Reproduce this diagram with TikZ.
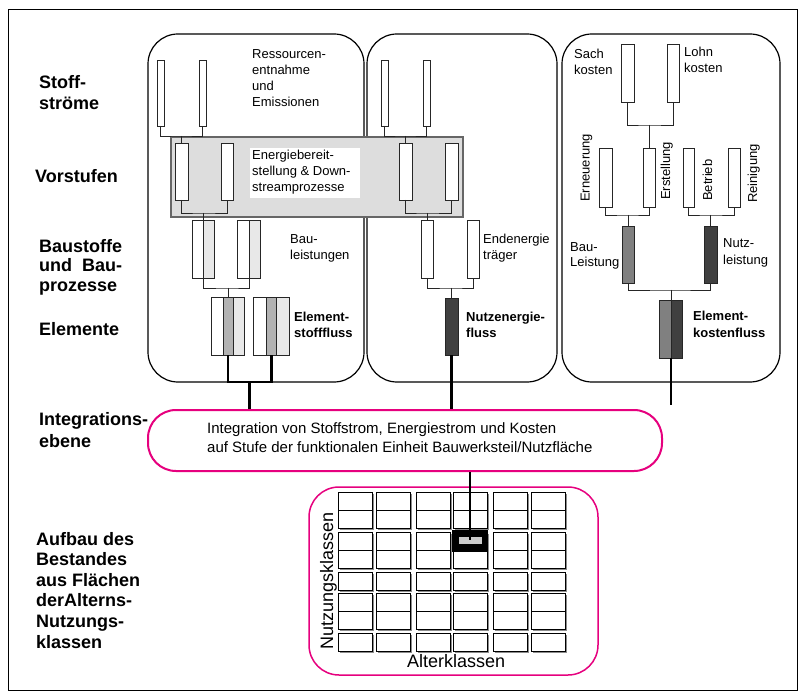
\documentclass[tikz,border=0pt]{standalone}
\usepackage{fontspec}
\setmainfont{Liberation Sans}
\usetikzlibrary{calc}
\definecolor{pinkc}{RGB}{230,0,126}
\definecolor{lgray}{RGB}{232,232,232}
\definecolor{mgray}{RGB}{178,178,178}
\definecolor{bgray}{RGB}{128,128,128}
\definecolor{dgray}{RGB}{64,64,64}
\definecolor{boxgray}{RGB}{221,221,221}
\begin{document}
\begin{tikzpicture}[x=1pt,y=-1pt,
  bar/.style 2 args={draw=black!85, line width=0.7pt, fill=white, minimum width=#1, minimum height=#2, inner sep=0pt, outer sep=0pt},
  conn/.style={draw=black!85, line width=0.8pt},
  thickc/.style={draw=black, line width=2.8pt},
  panel/.style={draw=black, line width=1.2pt, rounded corners=30pt, inner sep=0pt},
  side/.style={font=\fontsize{18}{21}\selectfont\bfseries, align=left, anchor=base west, inner sep=0pt},
  lbl/.style={font=\fontsize{13}{16}\selectfont, align=left, anchor=base west, inner sep=0pt},
  blbl/.style={font=\fontsize{13}{15.5}\selectfont\bfseries, align=left, anchor=base west, inner sep=0pt},
  cellshadow/.style={fill=black!45},
  cell/.style={draw=black, fill=white, line width=0.9pt},
]
\useasboundingbox (0,0) rectangle (805,700);
\fill[white] (0,0) rectangle (805,700);
\draw[line width=1pt] (8,10) rectangle (797,690);

% side labels (anchor = baseline of last line)
\node[side] (lStoff) at (39,110) {Stoff-\\str\"ome};
\node[side] (lVor) at (35,183) {Vorstufen};
\node[side, font=\fontsize{18}{19.5}\selectfont\bfseries] (lBau) at (39,291) {Baustoffe\\und\ \ Bau-\\prozesse};
\node[side] (lEl) at (39,335) {Elemente};
\node[side, font=\fontsize{18}{22}\selectfont\bfseries] (lInt) at (39,447) {Integrations-\\ebene};
\node[side, font=\fontsize{18}{20.6}\selectfont\bfseries] (lAuf) at (36,648) {Aufbau des\\Bestandes\\aus Fl\"achen\\derAlterns-\\Nutzungs-\\klassen};

% panels
\node[panel, minimum width=216, minimum height=348] (p1) at (256,208) {};
\node[panel, minimum width=190, minimum height=348] (p2) at (462,208) {};
\node[panel, minimum width=218, minimum height=348] (p3) at (671,208) {};

% Vorstufen gray box
\node[draw=black!60, fill=boxgray, line width=1.2pt, minimum width=292, minimum height=80, inner sep=0pt] (vbox) at (317,177) {};
\fill[white] (250,148) rectangle (360,198);
\node[lbl] (tEnergie) at (252,192) {Energiebereit-\\stellung \& Down-\\streamprozesse};

% Stoffstroeme bars
\node[bar={7}{66}] (s1) at (160.5,93) {};
\node[bar={7}{66}] (s2) at (202.5,93) {};
\node[bar={7}{66}] (s3) at (384.5,93) {};
\node[bar={7}{66}] (s4) at (426.5,93) {};
\node[lbl] (tRes) at (252,107) {Ressourcen-\\entnahme\\und\\Emissionen};

% Vorstufen bars
\node[bar={13}{57}] (v1) at (181.5,171.5) {};
\node[bar={12}{57}] (v2) at (227,171.5) {};
\node[bar={13}{57}] (v3) at (405.5,171.5) {};
\node[bar={13}{57}] (v4) at (451.5,171.5) {};

% Bauleistungen bars
\node[bar={11.5}{58}] (b1a) at (197.75,249) {};
\node[bar={10.5}{58}, fill=lgray] (b1b) at (208.75,249) {};
\node[bar={12}{58}] (b2a) at (243,249) {};
\node[bar={11}{58}, fill=lgray] (b2b) at (254.5,249) {};
\node[lbl] (tBau) at (290,260) {Bau-\\leistungen};

% Element bars
\node[bar={12}{58}] (el1a) at (217,326) {};
\node[bar={10}{58}, fill=mgray] (el1b) at (228,326) {};
\node[bar={11}{58}, fill=lgray] (el1c) at (238.5,326) {};
\node[bar={13}{58}] (el2a) at (259.5,326) {};
\node[bar={10.7}{58}, fill=mgray] (el2b) at (271.35,326) {};
\node[bar={12.3}{58}, fill=lgray] (el2c) at (282.85,326) {};
\node[blbl] (tElS) at (294,337) {Element-\\stofffluss};

% Panel 2 lower
\node[bar={12}{58}] (e1) at (427,249) {};
\node[bar={12}{58}] (e2) at (473,249) {};
\node[lbl] (tEnd) at (483,260) {Endenergie\\tr\"ager};
\node[bar={13}{57}, fill=dgray] (n1) at (451.5,326.5) {};
\node[blbl] (tNutzE) at (466,337) {Nutzenergie-\\fluss};

% Panel 3
\node[bar={13}{58}] (c1) at (627.5,73) {};
\node[bar={12}{58}] (c2) at (673,73) {};
\node[lbl] (tSach) at (574,75) {Sach\\kosten};
\node[lbl] (tLohn) at (684,73) {Lohn\\kosten};
\node[bar={13}{59}] (r1) at (605.5,177.5) {};
\node[bar={12}{59}] (r2) at (649,177.5) {};
\node[bar={11}{59}] (r3) at (688.5,177.5) {};
\node[bar={12}{59}] (r4) at (734,177.5) {};
\node[lbl, rotate=90] (tErn) at (589.5,202) {Erneuerung};
\node[lbl, rotate=90] (tErs) at (670,200) {Erstellung};
\node[lbl, rotate=90] (tBet) at (712,201) {Betrieb};
\node[lbl, rotate=90] (tRei) at (757,203) {Reinigung};
\node[bar={12}{57}, fill=bgray] (bl) at (628,254.5) {};
\node[bar={13}{57}, fill=dgray] (nl) at (710.5,254.5) {};
\node[lbl, font=\fontsize{13}{15.5}\selectfont] (tBauL) at (570,267) {Bau-\\Leistung};
\node[lbl, font=\fontsize{13}{16.5}\selectfont] (tNutzL) at (723,264.5) {Nutz-\\leistung};
\node[bar={12}{58}, fill=bgray] (eka) at (665,329) {};
\node[bar={11}{58}, fill=dgray] (ekb) at (676.5,329) {};
\node[blbl, font=\fontsize{13}{17}\selectfont\bfseries] (tElK) at (693,337) {Element-\\kostenfluss};

% connectors panel 1
\coordinate (j1) at (v1.north |- 0,136);
\draw[conn] (s1.south) |- (j1) -| (s2.south);
\draw[conn] (j1) -- (v1.north);
\coordinate (j2) at (b1a.north east |- 0,213);
\draw[conn] (v1.south) |- (j2) -| (v2.south);
\draw[conn] (j2) -- (b1a.north east);
\coordinate (j9) at (el1b.north |- 0,288);
\draw[conn] (b1a.south east) |- (j9) -| (b2a.south east);
\draw[conn] (j9) -- (el1b.north);
% connectors panel 2
\coordinate (j10) at (v3.north |- 0,136);
\draw[conn] (s3.south) |- (j10) -| (s4.south);
\draw[conn] (j10) -- (v3.north);
\coordinate (j3) at (e1.north |- 0,213);
\draw[conn] (v3.south) |- (j3) -| (v4.south);
\draw[conn] (j3) -- (e1.north);
\coordinate (j8) at (n1.north |- 0,288);
\draw[conn] (e1.south) |- (j8) -| (e2.south);
\draw[conn] (j8) -- (n1.north);
% connectors panel 3
\coordinate (j4) at (r2.north |- 0,125);
\draw[conn] (c1.south) |- (j4) -| (c2.south);
\draw[conn] (j4) -- (r2.north);
\coordinate (j5) at (bl.north |- 0,215);
\draw[conn] (r1.south) |- (j5) -| (r2.south);
\draw[conn] (j5) -- (bl.north);
\coordinate (j6) at (nl.north |- 0,215);
\draw[conn] (r3.south) |- (j6) -| (r4.south);
\draw[conn] (j6) -- (nl.north);
\coordinate (j7) at (eka.north east |- 0,290);
\draw[conn] (bl.south) |- (j7) -| (nl.south);
\draw[conn] (j7) -- (eka.north east);

% integration box
\node[draw=pinkc, line width=2pt, rounded corners=28pt, minimum width=514, minimum height=61, inner sep=0pt] (integ) at (405,440.5) {};
\node[font=\fontsize{15}{19}\selectfont, align=left, anchor=base west, inner sep=0pt] (tInteg) at (207,452) {Integration von Stoffstrom, Energiestrom und Kosten\\auf Stufe der funktionalen Einheit Bauwerksteil/Nutzfl\"ache};

% thick lines
\coordinate (k1) at (el1b.south |- 0,382);
\coordinate (k2) at (el2b.south |- 0,382);
\coordinate (k3) at ($(k1)!0.5!(k2)$);
\draw[thickc] (el1b.south) -- (k1) -- (k2) -- (el2b.south);
\draw[thickc] (k3) -- (k3 |- integ.north);
\draw[thickc] (n1.south) -- (n1.south |- integ.north);
\coordinate (kend) at (eka.south east |- 0,405);
\draw[thickc] (eka.south east) -- (kend);

% grid box
\node[draw=pinkc, line width=1.5pt, rounded corners=30pt, minimum width=289, minimum height=188, inner sep=0pt] (gridbox) at (453.5,581) {};
\foreach \cx in {338,376,416,453,493,531} {
  \foreach \cy in {492,510,532,550,572,593,611,633} {
    \fill[cellshadow] (\cx+2,\cy+2) rectangle ++(34,18);
  }
}
\foreach \cx in {338,376,416,453,493,531} {
  \foreach \cy in {492,510,532,550,572,593,611,633} {
    \draw[cell] (\cx,\cy) rectangle ++(34,18);
  }
}
\node[fill=black, minimum width=36, minimum height=22, inner sep=0pt] (hl) at (469.5,540.5) {};
\node[draw=black, line width=0.6pt, fill=black!20, minimum width=24, minimum height=8, inner sep=0pt] (hlin) at (470,540) {};
\draw[thickc] (hlin.center |- integ.south) -- (hlin.center);
\node[font=\fontsize{18}{18}\selectfont, rotate=90, anchor=base west, inner sep=0pt] (tNK) at (333,650) {Nutzungsklassen};
\node[font=\fontsize{18}{18}\selectfont, anchor=base west, inner sep=0pt] (tAK) at (407,667) {Alterklassen};
\end{tikzpicture}
\end{document}
